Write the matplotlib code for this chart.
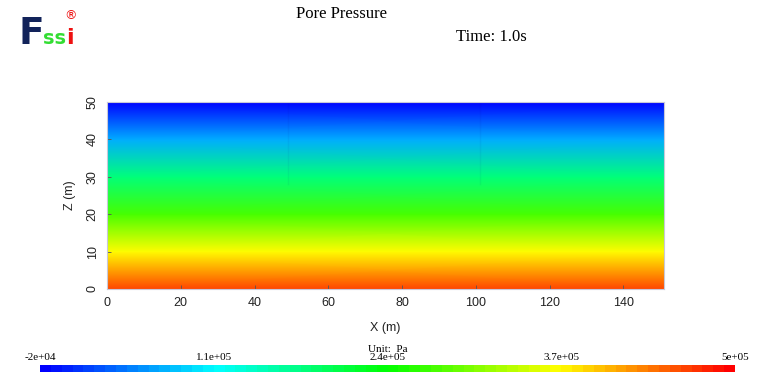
#!/usr/bin/env python3
"""Pore pressure snapshot at t = 1.0 s, FSSI style."""
import matplotlib
matplotlib.use("Agg")
import matplotlib.pyplot as plt
import numpy as np
from matplotlib.colors import LinearSegmentedColormap, Normalize
from matplotlib.colorbar import ColorbarBase

z_nodes = [0, 10, 20, 30, 40, 50]
x_nodes = [0, 151]
p_nodes = [4.64e5, 3.70e5, 2.76e5, 1.78e5, 0.68e5, -2.0e4]
seam_x = [49, 101]          # faint mesh seams in the upper part
seam_z = [28, 50]

P_MIN, P_MAX = -2e4, 5e5
cbar_ticks = [-2e4, 1.1e5, 2.4e5, 3.7e5, 5e5]
cbar_labels = ["-2e+04", "1.1e+05", "2.4e+05", "3.7e+05", "5e+05"]
x_ticks = [0, 20, 40, 60, 80, 100, 120, 140]
z_ticks = [0, 10, 20, 30, 40, 50]

COLORS = ["#0000ff", "#00ffff", "#00ff00", "#ffff00", "#ff0000"]
SERIF = "Liberation Serif"
SANS = "Liberation Sans"

W, H = 768, 387
fig = plt.figure(figsize=(W / 100, H / 100), dpi=100)

cmap = LinearSegmentedColormap.from_list("fssi", COLORS, N=256)
cmap_bands = LinearSegmentedColormap.from_list("fssi64", COLORS, N=64)
norm = Normalize(P_MIN, P_MAX)

# main field
ax = fig.add_axes([107 / W, 1 - 289 / H, (664 - 107) / W, (289 - 102) / H])
P = np.column_stack([p_nodes, p_nodes])
ax.pcolormesh(x_nodes, z_nodes, P, shading="gouraud", cmap=cmap, norm=norm)
for sx in seam_x:
    ax.plot([sx, sx], seam_z, color="#000080", alpha=0.05, linewidth=1.0)
ax.set_xlim(0, 151)
ax.set_ylim(0, 50)
ax.set_xticks(x_ticks)
ax.set_yticks(z_ticks)
ax.tick_params(direction="in", length=3, width=0.6, color="#555555",
               labelsize=9, labelcolor="#222222", pad=6)
for t in ax.get_xticklabels() + ax.get_yticklabels():
    t.set_family(SANS)
ax.yaxis.set_tick_params(labelrotation=90)
for t in ax.get_yticklabels():
    t.set_va("center")
for sp in ax.spines.values():
    sp.set_color("#c8c8d8")
    sp.set_linewidth(0.8)
ax.set_xlabel("X (m)", family=SANS, fontsize=9, color="#222222", labelpad=9)
ax.set_ylabel("Z (m)", family=SANS, fontsize=9, color="#222222", labelpad=8)

# colorbar
cax = fig.add_axes([40 / W, 1 - 372 / H, (735 - 40) / W, 7 / H])
cb = ColorbarBase(cax, cmap=cmap_bands, norm=norm, orientation="horizontal")
cb.outline.set_visible(False)
cax.xaxis.set_ticks_position("top")
cb.set_ticks(cbar_ticks)
cb.set_ticklabels(cbar_labels)
cax.tick_params(length=0, labelsize=8, pad=2)
for t in cax.get_xticklabels():
    t.set_family(SERIF)
fig.text(388 / W, 1 - 349 / H, "Unit:  Pa", family=SERIF, fontsize=8,
         ha="center", va="center")

# titles
fig.text(341 / W, 1 - 14 / H, "Pore Pressure", family=SERIF, fontsize=12,
         ha="center", va="center")
fig.text(491 / W, 1 - 37 / H, "Time: 1.0s", family=SERIF, fontsize=12,
         ha="center", va="center")

# logo
fig.text(19 / W, 1 - 44 / H, "F", family="DejaVu Sans", fontsize=27,
         fontweight="bold", color="#12235a", ha="left", va="baseline")
fig.text(43 / W, 1 - 44 / H, "ss", family="DejaVu Sans", fontsize=14,
         fontweight="bold", color="#33dd33", ha="left", va="baseline")
fig.text(66 / W, 1 - 44 / H, "i", family="DejaVu Sans", fontsize=16,
         fontweight="bold", color="#ee1111", ha="left", va="baseline")
fig.text(71 / W, 1 - 16 / H, "®", family="DejaVu Sans", fontsize=9,
         color="#ee1111", ha="center", va="center")

fig.savefig("out.png", dpi=100)
